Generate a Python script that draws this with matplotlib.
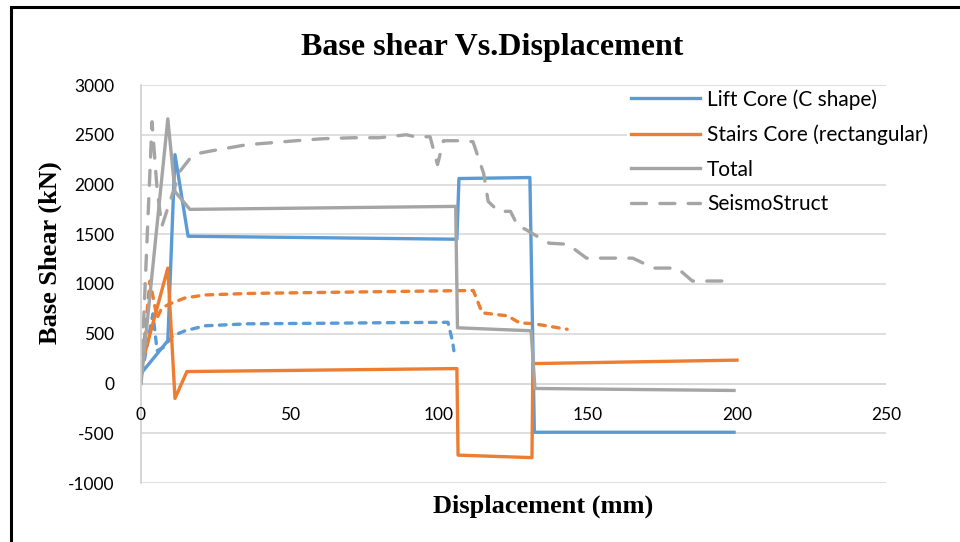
import matplotlib.pyplot as plt
from matplotlib.patches import Rectangle

plt.rcParams['axes.unicode_minus'] = False

# series (displacement mm, base shear kN)
lift_x = [0, 9, 11.4, 15.8, 106, 106.7, 130.5, 132, 199]
lift_y = [100, 430, 2300, 1480, 1450, 2060, 2070, -490, -490]

stairs_x = [0, 9, 11.4, 15.4, 106, 106.4, 131.2, 131.5, 200]
stairs_y = [160, 1160, -150, 120, 150, -720, -745, 200, 235]

total_x = [0, 9, 11.4, 16.4, 105.6, 106.2, 130.9, 132.2, 199]
total_y = [0, 2660, 1930, 1750, 1780, 560, 530, -50, -70]

seismo_x = [0, 3.7, 5.4, 7, 13, 16.4, 18.8, 24, 35.5, 44, 52, 61, 71, 80, 89, 92,
            97, 99.5, 101.5, 106.4, 111.4, 115, 116.5, 120, 124, 126.5, 129,
            134, 137, 143, 145, 149.5, 165, 172, 180, 185, 198]
seismo_y = [0, 2630, 1950, 1580, 2130, 2260, 2310, 2340, 2400, 2420, 2440, 2460,
            2470, 2470, 2500, 2480, 2480, 2200, 2440, 2440, 2430, 2110, 1830,
            1730, 1730, 1580, 1550, 1460, 1410, 1400, 1360, 1260, 1260, 1160,
            1160, 1030, 1030]

stairs_ss_x = [0.3, 3, 5.4, 7, 10.4, 14.8, 21.5, 36, 60, 86, 111.5, 114.5, 123, 127, 132, 143]
stairs_ss_y = [160, 1030, 660, 760, 810, 860, 890, 905, 915, 925, 935, 710, 680, 610, 600, 545]

lift_ss_x = [0.3, 4, 5.4, 7.4, 10.7, 14.8, 21.5, 36, 60, 86, 103, 104.5, 105]
lift_ss_y = [100, 700, 330, 360, 480, 530, 580, 600, 605, 612, 615, 430, 330]

xticks = [0, 50, 100, 150, 200, 250]

blue = '#5B9BD5'
orange = '#ED7D31'
gray = '#A5A5A5'

fig = plt.figure(figsize=(9.6, 5.42), dpi=100)
fig.patches.append(Rectangle((11 / 960, -0.1), 1.2, 1 - 7 / 542 + 0.1,
                             transform=fig.transFigure, fill=False,
                             edgecolor='black', linewidth=2.2))
ax = fig.add_axes([141 / 960, 1 - 483 / 542, (886 - 141) / 960, (483 - 85) / 542])

lw = 2.4
ax.plot(lift_ss_x, lift_ss_y, color=blue, lw=lw, dashes=(2, 2.2), dash_capstyle='round')
ax.plot(stairs_ss_x, stairs_ss_y, color=orange, lw=lw, dashes=(2, 2.2), dash_capstyle='round')
ax.plot(lift_x, lift_y, color=blue, lw=lw, label='Lift Core (C shape)')
ax.plot(stairs_x, stairs_y, color=orange, lw=lw, label='Stairs Core (rectangular)')
ax.plot(total_x, total_y, color=gray, lw=lw, label='Total')
ax.plot(seismo_x, seismo_y, color=gray, lw=lw, dashes=(4.5, 4), dash_capstyle='round',
        label='SeismoStruct')

ax.set_xlim(0, 250)
ax.set_ylim(-1000, 3000)
ax.set_xticks(xticks)
ax.set_xticklabels([])
ax.set_yticks(range(-1000, 3001, 500))
ax.grid(axis='y', color='#D9D9D9', lw=1.2)
ax.set_axisbelow(True)
for s in ['top', 'right', 'bottom']:
    ax.spines[s].set_visible(False)
ax.spines['left'].set_color('#D0D0D0')
ax.spines['left'].set_linewidth(1.2)
ax.axhline(0, color='#D0D0D0', lw=1.2, zorder=0.5)
ax.tick_params(length=0, labelsize=12.5)
ax.tick_params(axis='y', pad=19)
for t in ax.get_yticklabels():
    t.set_fontfamily('Lato')
# x tick labels sit just under the zero line
for v in xticks:
    ax.text(v, -320, str(v), ha='center', va='center', fontsize=12.5, fontfamily='Lato')

# legend box in the original only hides the 2500 gridline
ax.add_patch(Rectangle((0.652, 0.762), 0.36, 0.228, transform=ax.transAxes,
                       facecolor='white', edgecolor='none', zorder=1, clip_on=False))
leg = ax.legend(loc='upper left', bbox_to_anchor=(0.652, 1.0), frameon=False,
                prop={'family': 'Lato', 'size': 15}, handlelength=3.3,
                handletextpad=0.35, labelspacing=0.7, borderpad=0.2, borderaxespad=0)

fig.text(492 / 960, 1 - 47 / 542, 'Base shear Vs.Displacement', ha='center', va='center',
         fontsize=23, fontweight='bold', fontfamily='Liberation Serif')
fig.text(543 / 960, 1 - 506 / 542, 'Displacement (mm)', ha='center', va='center',
         fontsize=19, fontweight='bold', fontfamily='Liberation Serif')
fig.text(50 / 960, 1 - 253 / 542, 'Base Shear (kN)', ha='center', va='center', rotation=90,
         fontsize=19, fontweight='bold', fontfamily='Liberation Serif')

fig.savefig('out.png', dpi=100)
